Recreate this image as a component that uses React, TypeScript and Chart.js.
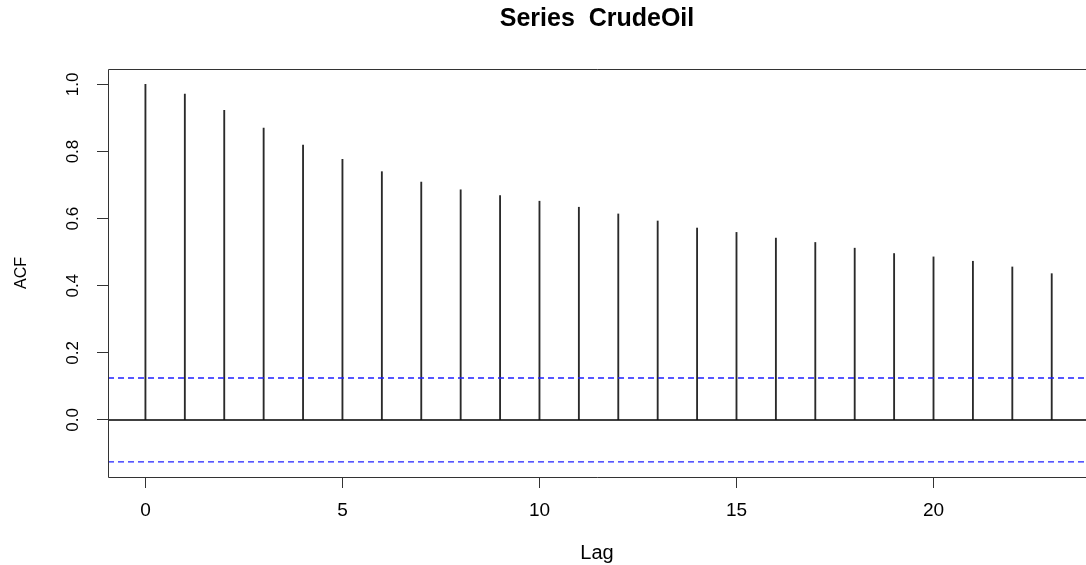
import React, { useEffect, useRef } from "react";
import { Chart, registerables } from "chart.js";

Chart.register(...registerables);

const LAGS = [0, 1, 2, 3, 4, 5, 6, 7, 8, 9, 10, 11, 12, 13, 14, 15, 16, 17, 18, 19, 20, 21, 22, 23];
const ACF_VALUES = [
  1.0, 0.971, 0.923, 0.87, 0.819, 0.777, 0.74, 0.709, 0.686, 0.669, 0.652, 0.634,
  0.614, 0.593, 0.572, 0.559, 0.542, 0.529, 0.512, 0.496, 0.486, 0.473, 0.456, 0.436,
];
const CI_BOUND = 0.125;
const X_TICKS = [0, 5, 10, 15, 20];
const Y_TICKS = [0, 0.2, 0.4, 0.6, 0.8, 1.0];
const X_MIN = -0.95;
const X_MAX = 23.87;
const Y_MIN = -0.17;
const Y_MAX = 1.046;
const TITLE = "Series  CrudeOil";
const X_LABEL = "Lag";
const Y_LABEL = "ACF";

const FONT = "'Liberation Sans', Arial, Helvetica, sans-serif";

const boxPlugin = {
  id: "rbox",
  afterDraw(chart: any) {
    const { ctx, chartArea } = chart;
    const { left, top, right, bottom } = chartArea;
    ctx.save();
    ctx.strokeStyle = "#333";
    ctx.lineWidth = 1;
    ctx.beginPath();
    ctx.moveTo(right + 2, Math.round(top) + 0.5);
    ctx.lineTo(Math.round(left) + 0.5, Math.round(top) + 0.5);
    ctx.lineTo(Math.round(left) + 0.5, Math.round(bottom) + 0.5);
    ctx.lineTo(right + 2, Math.round(bottom) + 0.5);
    ctx.stroke();
    // rotated y tick labels (R style)
    const yScale = chart.scales.y;
    ctx.fillStyle = "#000";
    ctx.font = `17px ${FONT}`;
    ctx.textAlign = "center";
    ctx.textBaseline = "middle";
    Y_TICKS.forEach((v) => {
      const py = yScale.getPixelForValue(v);
      ctx.save();
      ctx.translate(73, py);
      ctx.rotate(-Math.PI / 2);
      ctx.fillText(v.toFixed(1), 0, 0);
      ctx.restore();
    });
    ctx.restore();
  },
};

export default function App() {
  const ref = useRef<HTMLCanvasElement | null>(null);

  useEffect(() => {
    const canvas = ref.current;
    if (!canvas) return;
    const chart = new Chart(canvas, {
      type: "bar",
      data: {
        datasets: [
          {
            type: "bar",
            data: LAGS.map((l, i) => ({ x: l, y: ACF_VALUES[i] })),
            backgroundColor: "#2a2a2a",
            borderWidth: 0,
            barThickness: 1.2,
            order: 2,
          } as any,
          {
            type: "line",
            data: [
              { x: X_MIN, y: 0 },
              { x: X_MAX, y: 0 },
            ],
            borderColor: "#000",
            borderWidth: 1.4,
            pointRadius: 0,
            order: 1,
          } as any,
          {
            type: "line",
            data: [
              { x: X_MIN, y: CI_BOUND },
              { x: X_MAX, y: CI_BOUND },
            ],
            borderColor: "#2020ff",
            borderWidth: 1.3,
            borderDash: [6, 4],
            pointRadius: 0,
            order: 0,
          } as any,
          {
            type: "line",
            data: [
              { x: X_MIN, y: -CI_BOUND },
              { x: X_MAX, y: -CI_BOUND },
            ],
            borderColor: "#2020ff",
            borderWidth: 1.3,
            borderDash: [6, 4],
            pointRadius: 0,
            order: 0,
          } as any,
        ],
      },
      options: {
        animation: false,
        responsive: false,
        devicePixelRatio: 1,
        layout: { padding: { top: 0, left: 0, right: 0, bottom: 0 } },
        plugins: {
          legend: { display: false },
          tooltip: { enabled: false },
          title: {
            display: true,
            text: TITLE,
            fullSize: false,
            color: "#000",
            font: { family: FONT, size: 25, weight: "bold", lineHeight: 1.2 },
            padding: { top: 4, bottom: 35 },
          },
        },
        scales: {
          x: {
            type: "linear",
            min: X_MIN,
            max: X_MAX,
            offset: false,
            afterBuildTicks: (scale: any) => {
              scale.ticks = X_TICKS.map((v) => ({ value: v }));
            },
            afterFit: (scale: any) => {
              scale.height = 88;
            },
            grid: {
              display: true,
              offset: false,
              drawOnChartArea: false,
              drawTicks: true,
              tickLength: 11,
              color: "#333",
              lineWidth: 1,
            },
            border: { display: false },
            ticks: {
              color: "#000",
              font: { family: FONT, size: 19 },
              padding: 11,
              maxRotation: 0,
              autoSkip: false,
              callback: (v: any) => String(v),
            },
            title: {
              display: true,
              text: X_LABEL,
              color: "#000",
              font: { family: FONT, size: 20 },
              padding: { top: 0, bottom: 0 },
            },
          },
          y: {
            type: "linear",
            min: Y_MIN,
            max: Y_MAX,
            afterBuildTicks: (scale: any) => {
              scale.ticks = Y_TICKS.map((v) => ({ value: v }));
            },
            afterFit: (scale: any) => {
              scale.width = 108;
            },
            grid: {
              display: true,
              drawOnChartArea: false,
              drawTicks: true,
              tickLength: 11,
              color: "#333",
              lineWidth: 1,
            },
            border: { display: false },
            ticks: { display: false },
            title: {
              display: true,
              text: Y_LABEL,
              color: "#000",
              font: { family: FONT, size: 16 },
              padding: { top: 12.4, bottom: 0 },
            },
          },
        },
      } as any,
      plugins: [boxPlugin],
    });
    return () => chart.destroy();
  }, []);

  return (
    <div style={{ position: "fixed", left: 0, top: 0, width: 1086, height: 565, background: "#fff" }}>
      <canvas ref={ref} width={1086} height={565} style={{ display: "block" }} />
    </div>
  );
}
